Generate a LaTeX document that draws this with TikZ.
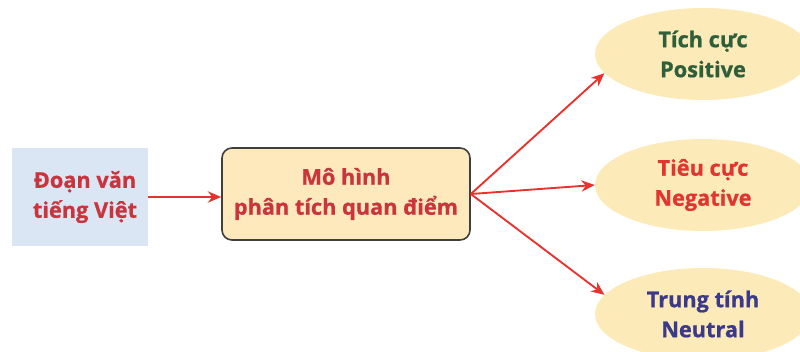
\documentclass[tikz,border=0pt]{standalone}
\usepackage{fontspec}
\setmainfont{Open Sans}[BoldFeatures={FakeBold=0.8}]
\usetikzlibrary{shapes.geometric,arrows.meta}
\definecolor{txtred}{HTML}{C9343D}
\definecolor{arrred}{HTML}{E8322E}
\definecolor{negred}{HTML}{E33530}
\definecolor{posgreen}{HTML}{2F5F3A}
\definecolor{neublue}{HTML}{3B3A8A}
\definecolor{srcfill}{HTML}{DAE6F4}
\definecolor{modfill}{HTML}{FDE9BC}
\definecolor{ellfill}{HTML}{FCEBB9}
\definecolor{modline}{HTML}{3F3F3F}
\tikzset{
  lbl/.style={font=\fontsize{16.3}{22.5}\selectfont\bfseries, align=center},
  srcbox/.style={lbl, rectangle, fill=srcfill, text=txtred, minimum width=102pt, minimum height=73.5pt, inner sep=0pt},
  modbox/.style={lbl, rectangle, rounded corners=7.5pt, draw=modline, line width=1.2pt, fill=modfill, text=txtred, minimum width=186pt, minimum height=69pt, inner sep=0pt},
  classell/.style={lbl, ellipse, fill=ellfill, minimum width=162pt, minimum height=69pt, inner sep=0pt},
  flow/.style={draw=arrred, line width=1.4pt, -{Stealth[length=10pt, width=8.5pt]}}
}
\begin{document}
\begin{tikzpicture}[x=0.75pt, y=-0.75pt]
  \useasboundingbox (0,0) rectangle (800,351);
  \clip (0,0) rectangle (800,351);
  % input text box, with its label set a little right of centre
  \node[srcbox] (src) at (80,197) {};
  \node[lbl, text=txtred] (srctext) at (85,197) {Đoạn văn\\tiếng Việt};
  \node[modbox] (mod) at (346,194) {Mô hình\\phân tích quan điểm};
  % output classes
  \node[classell, text=posgreen] (pos) at (703,54) {Tích cực\\Positive};
  \node[classell, text=negred] (neg) at (703,185) {Tiêu cực\\Negative};
  \node[classell, text=neublue] (neu) at (703,314) {Trung tính\\Neutral};
  \draw[flow] (src.east |- 0,197) -- (mod.west |- 0,197);
  \draw[flow] (mod.east) -- (pos.191);
  \draw[flow] (mod.east) -- (neg.west);
  \draw[flow] (mod.east) -- (neu.169);
\end{tikzpicture}
\end{document}
